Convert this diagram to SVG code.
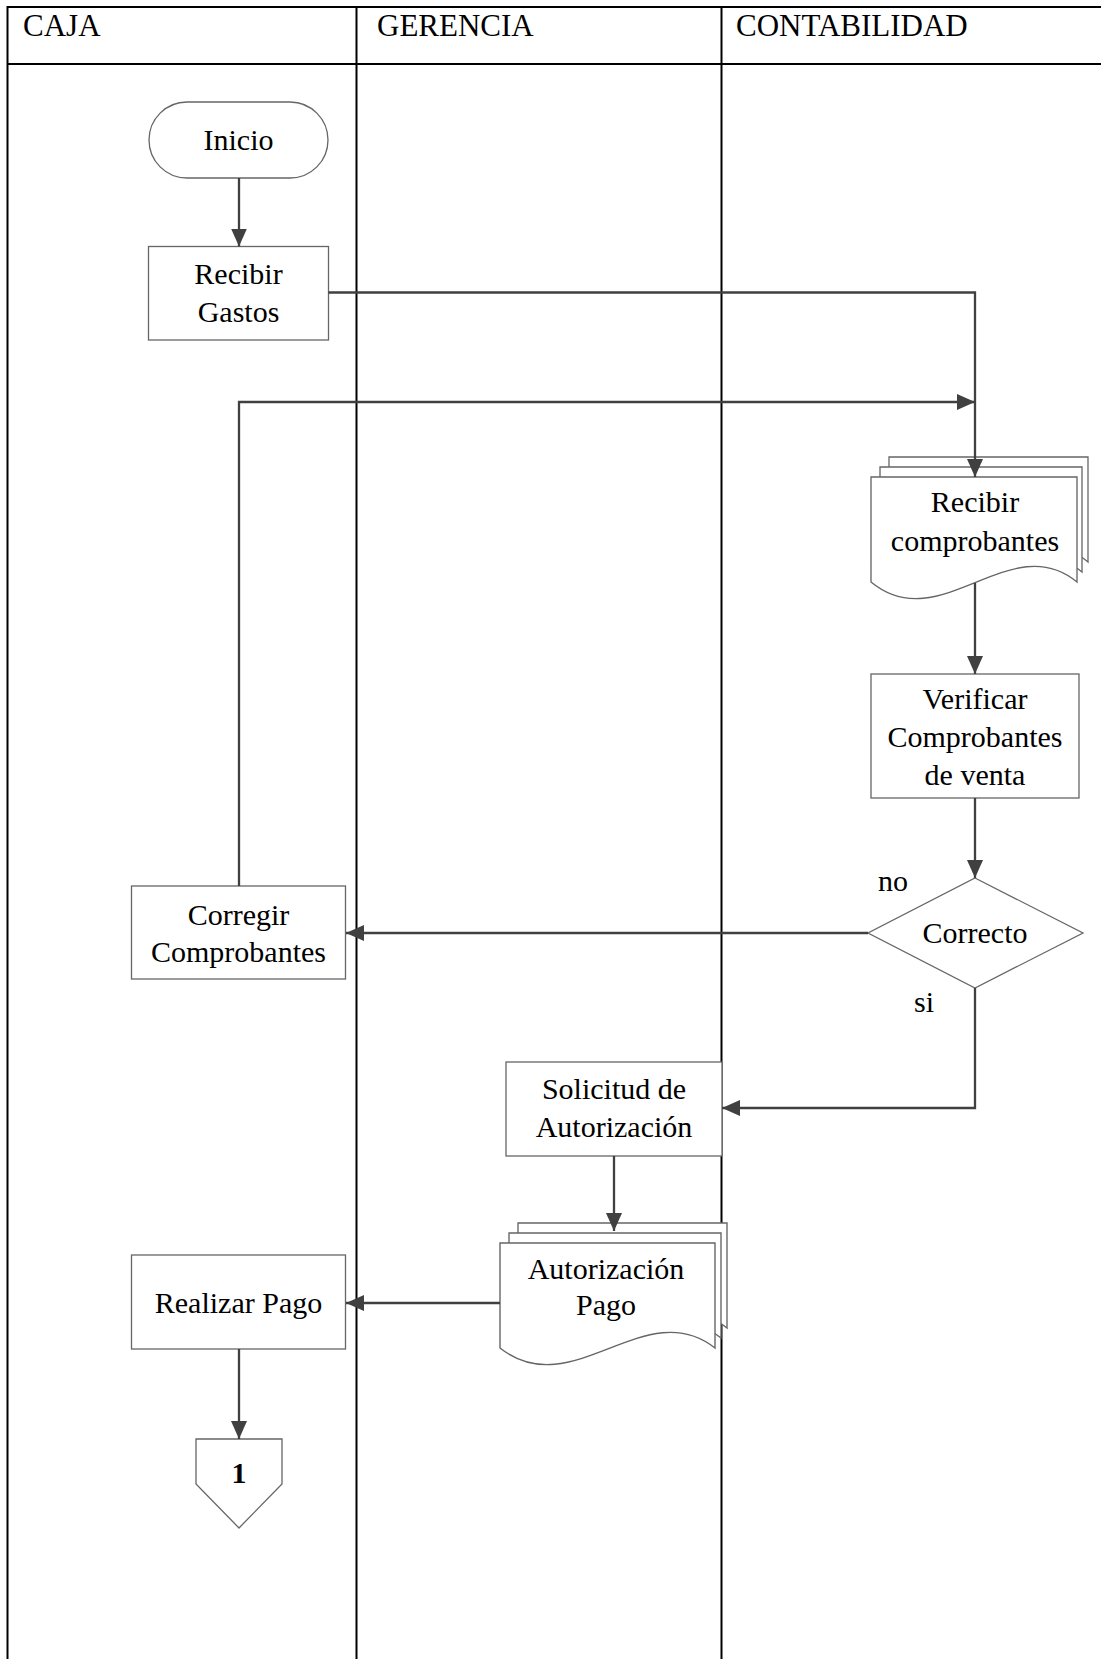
<svg xmlns="http://www.w3.org/2000/svg" width="1101" height="1659" viewBox="0 0 1101 1659">
<style>
  .lane { stroke: #000; stroke-width: 2; fill: none; }
  .node { fill: #fff; stroke: #666; stroke-width: 1.3; }
  .doc { fill: #fff; stroke: #666; stroke-width: 1.3; vector-effect: non-scaling-stroke; }
  .conn { fill: none; stroke: #404040; stroke-width: 2.3; }
  text { font-family: "Liberation Serif", "Times New Roman", serif; font-size: 30px; fill: #000; }
  .hdr { font-size: 31px; }
  .c { text-anchor: middle; }
</style>
<defs>
  <marker id="arr" markerUnits="userSpaceOnUse" markerWidth="19" markerHeight="17" refX="18" refY="8" orient="auto">
    <path d="M0,0 L18,8 L0,16 Z" fill="#404040"/>
  </marker>
  <path id="doc" d="M0,0 H200 V105 C135,50 67,162 0,105 Z"/>
</defs>
<rect width="1101" height="1659" fill="#fff"/>
<g id="lanes">
  <line class="lane" x1="7.5" y1="7" x2="1101" y2="7"/>
  <line class="lane" x1="7.5" y1="64" x2="1101" y2="64"/>
  <line class="lane" x1="7.5" y1="6" x2="7.5" y2="1659"/>
  <line class="lane" x1="356.5" y1="7" x2="356.5" y2="1659"/>
  <line class="lane" x1="721.5" y1="7" x2="721.5" y2="1659"/>
  <text class="hdr" x="23" y="36">CAJA</text>
  <text class="hdr" x="377" y="36">GERENCIA</text>
  <text class="hdr" x="736" y="36">CONTABILIDAD</text>
</g>
<g id="inicio">
  <rect class="node" x="149" y="102" width="179" height="76" rx="38" ry="38"/>
  <text class="c" x="238.5" y="150">Inicio</text>
</g>
<g id="recibir-gastos">
  <rect class="node" x="148.5" y="246.5" width="180" height="93.5"/>
  <text class="c" x="238.5" y="284">Recibir</text>
  <text class="c" x="238.5" y="322">Gastos</text>
</g>
<g id="recibir-comprobantes">
  <use href="#doc" class="doc" transform="translate(889,457) scale(0.995,1)"/>
  <use href="#doc" class="doc" transform="translate(880,467) scale(1.01,1)"/>
  <use href="#doc" class="doc" transform="translate(871,477) scale(1.03,1)"/>
  <text class="c" x="975" y="512">Recibir</text>
  <text class="c" x="975" y="551">comprobantes</text>
</g>
<g id="verificar">
  <rect class="node" x="871" y="674" width="208" height="124"/>
  <text class="c" x="975" y="709">Verificar</text>
  <text class="c" x="975" y="747">Comprobantes</text>
  <text class="c" x="975" y="785">de venta</text>
</g>
<g id="correcto">
  <polygon class="node" points="975,878 1083,933 975,988 868,933"/>
  <text class="c" x="975" y="943">Correcto</text>
</g>
<g id="corregir">
  <rect class="node" x="131.5" y="886" width="214" height="93"/>
  <text class="c" x="238.5" y="925">Corregir</text>
  <text class="c" x="238.5" y="962">Comprobantes</text>
</g>
<g id="solicitud">
  <rect class="node" x="506" y="1062" width="216" height="94"/>
  <text class="c" x="614" y="1099">Solicitud de</text>
  <text class="c" x="614" y="1137">Autorización</text>
</g>
<g id="autorizacion-pago">
  <use href="#doc" class="doc" transform="translate(518,1223) scale(1.045,1)"/>
  <use href="#doc" class="doc" transform="translate(509,1233) scale(1.06,1)"/>
  <use href="#doc" class="doc" transform="translate(500,1243) scale(1.075,1)"/>
  <text class="c" x="606" y="1279">Autorización</text>
  <text class="c" x="606" y="1315">Pago</text>
</g>
<g id="realizar-pago">
  <rect class="node" x="131.5" y="1255" width="214" height="94"/>
  <text class="c" x="238.5" y="1313">Realizar Pago</text>
</g>
<g id="conector-1">
  <polygon class="node" points="196,1439 282,1439 282,1484 239,1528 196,1484"/>
  <text class="c" x="239" y="1483" font-weight="bold">1</text>
</g>
<g id="connectors">
  <path class="conn" d="M239,178 V246.5" marker-end="url(#arr)"/>
  <path class="conn" d="M328.5,292.5 H975 V477" marker-end="url(#arr)"/>
  <path class="conn" d="M239,886 V402 H975" marker-end="url(#arr)"/>
  <path class="conn" d="M975,583 V674" marker-end="url(#arr)"/>
  <path class="conn" d="M975,798 V878" marker-end="url(#arr)"/>
  <path class="conn" d="M868,933 H346" marker-end="url(#arr)"/>
  <path class="conn" d="M975,988 V1108 H722" marker-end="url(#arr)"/>
  <path class="conn" d="M614,1156 V1231" marker-end="url(#arr)"/>
  <path class="conn" d="M500,1303 H346" marker-end="url(#arr)"/>
  <path class="conn" d="M239,1349 V1439" marker-end="url(#arr)"/>
  <text x="878" y="891">no</text>
  <text x="914" y="1012">si</text>
</g>
</svg>
